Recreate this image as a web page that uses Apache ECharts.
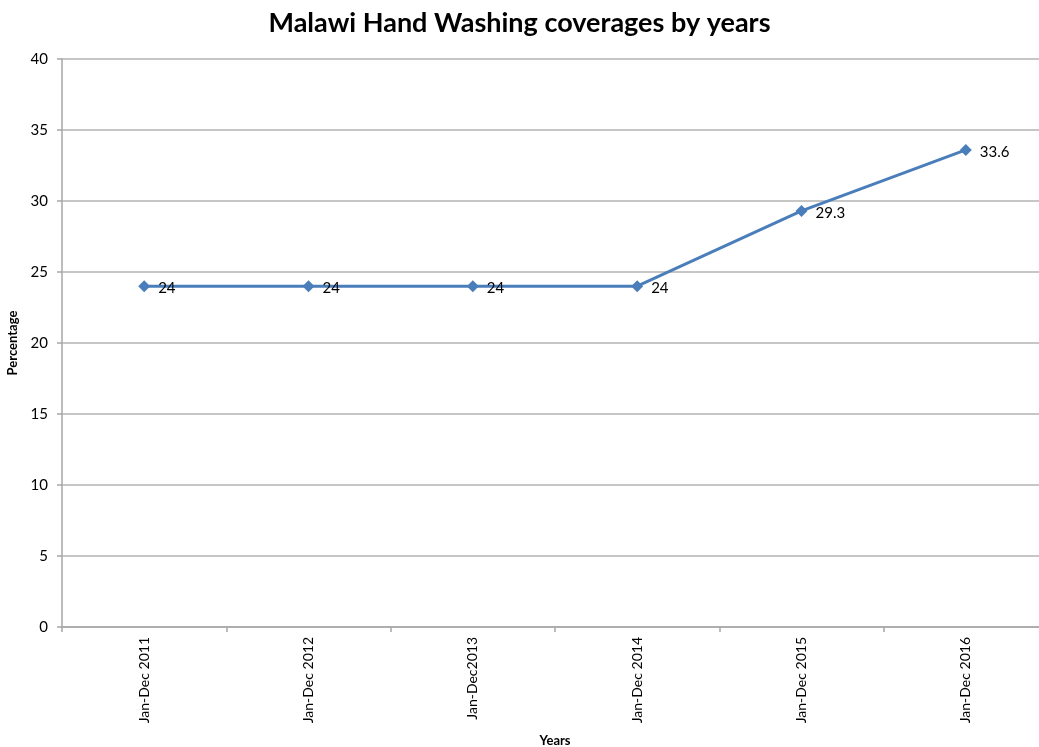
<!DOCTYPE html>
<html><head><meta charset="utf-8">
<script src="https://cdn.jsdelivr.net/npm/echarts@6/dist/echarts.min.js"></script>
<style>html,body{margin:0;padding:0;background:#fff}#c{width:1039px;height:747px}</style>
</head><body><div id="c"></div>
<script>
const categories = ['Jan-Dec 2011','Jan-Dec 2012','Jan-Dec2013','Jan-Dec 2014','Jan-Dec 2015','Jan-Dec 2016'];
const coverage = [24, 24, 24, 24, 29.3, 33.6];
const yTicks = {min: 0, max: 40, interval: 5};
const FONT = 'Lato, "Open Sans", sans-serif';
const chart = echarts.init(document.getElementById('c'));
chart.setOption({
  animation: false,
  backgroundColor: '#fff',
  title: {text: 'Malawi Hand Washing coverages by years', left: 'center', top: 5,
    textStyle: {fontFamily: FONT, fontSize: 27, fontWeight: 'bold', color: '#000'}},
  grid: {left: 62, top: 59, right: -9, bottom: 120, containLabel: false, outerBoundsMode: 'none'},
  xAxis: {type: 'category', data: categories, boundaryGap: true,
    name: 'Years', nameLocation: 'middle', nameGap: 107,
    nameTextStyle: {fontFamily: FONT, fontSize: 13, fontWeight: 'bold', color: '#000'},
    axisLine: {lineStyle: {color: '#a6a6a6', width: 1.5}},
    axisTick: {show: true, alignWithLabel: false, length: 5, lineStyle: {color: '#a6a6a6', width: 1.5}},
    axisLabel: {rotate: 90, margin: 10, fontFamily: FONT, fontSize: 14, color: '#000'}},
  yAxis: {type: 'value', min: yTicks.min, max: yTicks.max, interval: yTicks.interval,
    name: 'Percentage', nameLocation: 'middle', nameGap: 39, nameRotate: 90,
    nameTextStyle: {fontFamily: FONT, fontSize: 13, fontWeight: 'bold', color: '#000'},
    axisLine: {show: true, lineStyle: {color: '#a6a6a6', width: 1.5}},
    axisTick: {show: true, length: 5, lineStyle: {color: '#a6a6a6', width: 1.5}},
    splitLine: {lineStyle: {color: '#b3b3b3', width: 1.5}},
    axisLabel: {margin: 14, fontFamily: FONT, fontSize: 15, color: '#000'}},
  series: [{type: 'line', data: coverage, symbol: 'diamond', symbolSize: 12,
    lineStyle: {color: '#4a7ebb', width: 3}, itemStyle: {color: '#4a7ebb'},
    label: {show: true, position: 'right', distance: 8, fontFamily: FONT, fontSize: 15, color: '#000', offset: [0, 2]}}]
});
</script></body></html>
